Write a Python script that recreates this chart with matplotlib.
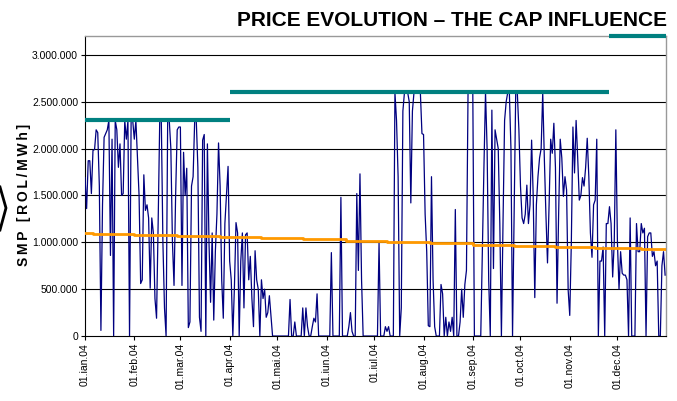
import numpy as np
import pandas as pd
import matplotlib
matplotlib.use('Agg')
import matplotlib.pyplot as plt
from matplotlib.lines import Line2D

plt.rcParams['font.family'] = ['Liberation Sans', 'DejaVu Sans']

# daily SMP values, thousands ROL/MWh, one list per month of 2004
jan = [1690, 1360, 1870, 1870, 1520, 1980, 1990, 2200, 2170, 1600, 60, 1400, 2120, 2160, 2200, 2300,
       860, 2100, 0, 2300, 2200, 1800, 2050, 1500, 1520, 2300, 2100, 2300, 0, 2300, 2300]
feb = [2100, 2300, 1900, 1500, 560, 600, 1720, 1340, 1400, 1260, 510, 1260, 1100, 400, 190, 1200,
       2300, 2300, 1000, 300, 0, 2300, 2300, 2000, 1000, 540, 1500, 2200, 2230]
mar = [2230, 540, 1960, 1500, 1790, 90, 150, 1600, 1700, 2300, 2300, 1800, 200, 50, 2090, 2150,
       0, 2050, 1000, 360, 1100, 170, 900, 1300, 2060, 1600, 600, 190, 1200, 1500, 1810]
apr = [800, 600, 0, 520, 1210, 1100, 0, 800, 1100, 300, 1080, 1100, 600, 850, 400, 100,
       910, 600, 500, 0, 600, 400, 500, 200, 250, 430, 210, 0, 0, 0]
mai = [0, 0, 0, 0, 0, 0, 0, 0, 390, 0, 0, 150, 0, 0, 0, 0,
       300, 0, 300, 100, 0, 0, 100, 190, 150, 450, 0, 0, 0, 0, 0]
iun = [0, 0, 0, 890, 0, 0, 0, 0, 0, 1480, 0, 0, 0, 0, 100, 250,
       50, 0, 0, 1520, 700, 1730, 600, 0, 0, 0, 0, 0, 0, 0]
iul = [0, 0, 0, 990, 0, 0, 0, 100, 50, 100, 0, 0, 0, 2600, 2300, 1700,
       0, 300, 2400, 2600, 2600, 2600, 2500, 1420, 2400, 2600, 2600, 2600, 2600, 2600, 2160]
aug = [2150, 1300, 900, 110, 100, 1700, 600, 100, 0, 0, 0, 550, 450, 0, 200, 0,
       150, 50, 200, 0, 1350, 0, 0, 150, 500, 200, 550, 700, 2600, 2600, 2600]
sep = [2600, 0, 0, 0, 0, 0, 900, 1800, 2600, 2000, 600, 0, 2410, 720, 2200, 2100,
       2000, 1200, 0, 1200, 2300, 2500, 2600, 2600, 2000, 0, 1300, 2600, 2600, 2200]
oct_ = [1600, 1260, 1200, 1300, 1610, 1200, 1400, 2090, 1500, 410, 1400, 1700, 1900, 2000, 2600, 1900,
        1300, 780, 1400, 2100, 1950, 2270, 1800, 350, 1300, 2100, 1900, 1490, 1700, 1560, 490]
nov = [220, 1000, 2230, 1740, 2300, 1900, 1450, 1500, 1690, 1600, 1800, 2110, 1700, 1100, 840, 1400,
       1450, 2100, 0, 800, 800, 950, 0, 1200, 1200, 1380, 1200, 630, 1000, 2200]
dec = [1000, 500, 900, 670, 650, 650, 600, 0, 1260, 0, 0, 0, 1200, 900, 900, 1200,
       1100, 1150, 0, 1060, 1100, 1100, 850, 900, 750, 800, 0, 0, 750, 900, 650]

# average price, step changes (start date, level in thousands)
avg_dates = ['2004-01-01', '2004-01-06', '2004-02-01', '2004-02-28', '2004-03-26', '2004-04-21',
             '2004-05-17', '2004-06-13', '2004-07-09', '2004-08-05', '2004-09-01', '2004-09-27',
             '2004-10-23', '2004-11-17', '2004-12-16']
avg_levels = [1100, 1087, 1076, 1066, 1057, 1046, 1030, 1016, 1002, 989, 975, 963, 952, 940, 928]

# price cap periods
cap_start = ['2004-01-01', '2004-04-01', '2004-11-26']
cap_end = ['2004-04-01', '2004-11-26', '2004-12-31 12:00']
cap_levels = [2300, 2600, 3200]

month_labels = ['01.ian.04', '01.feb.04', '01.mar.04', '01.apr.04', '01.mai.04', '01.iun.04',
                '01.iul.04', '01.aug.04', '01.sep.04', '01.oct.04', '01.nov.04', '01.dec.04']
y_ticks = [0, 500000, 1000000, 1500000, 2000000, 2500000, 3000000]
y_labels = ['0', '500.000', '1.000.000', '1.500.000', '2.000.000', '2.500.000', '3.000.000']

smp = np.array(jan + feb + mar + apr + mai + iun + iul + aug + sep + oct_ + nov + dec) * 1000
days = pd.date_range('2004-01-01', periods=len(smp), freq='D')
x_end = pd.Timestamp('2004-12-31 12:00')

fig = plt.figure(figsize=(6.77, 4.01), dpi=100)
ax = fig.add_axes([0.1256, 0.162, 0.858, 0.748])

for v in y_ticks[1:]:
    ax.axhline(v, color='black', lw=0.8, zorder=1)

ax.plot(days, smp, color='#000080', lw=0.9, zorder=3)

# average line as steps
a_x = list(pd.to_datetime(avg_dates)) + [x_end]
a_y = np.array(avg_levels + [avg_levels[-1]]) * 1000
ax.step(a_x, a_y, where='post', color='#FF9900', lw=2.0, zorder=4)

for s, e, c in zip(cap_start, cap_end, cap_levels):
    ax.plot([pd.Timestamp(s), pd.Timestamp(e)], [c * 1000, c * 1000], color='#008080',
            lw=3.0, solid_capstyle='butt', zorder=5, clip_on=False)

ax.set_ylim(0, 3200000)
ax.set_xlim(pd.Timestamp('2004-01-01'), x_end)
ax.set_yticks(y_ticks)
ax.set_yticklabels(y_labels, fontsize=7.5)
ticks = pd.date_range('2004-01-01', periods=12, freq='MS')
ax.set_xticks(ticks)
ax.set_xticklabels(month_labels, rotation=90, fontsize=7.5, ha='center', va='top')
ax.tick_params(axis='both', length=3, width=0.8, color='black', pad=2)

for side in ['top', 'right']:
    ax.spines[side].set_color('#999999')
    ax.spines[side].set_linewidth(1.0)
for side in ['left', 'bottom']:
    ax.spines[side].set_color('black')
    ax.spines[side].set_linewidth(0.8)

# y label, letters slightly spaced like the original
ylab = '\u2009'.join('SMP [ROL/MWh]')
fig.text(24 / 677, 1 - 195 / 401, ylab, fontsize=10, fontweight='bold',
         rotation=90, ha='center', va='center')
fig.text(0.985, 0.935, 'PRICE EVOLUTION \u2013 THE CAP INFLUENCE', fontsize=15,
         fontweight='bold', ha='right', va='baseline')

# chevron on left edge
fig.add_artist(Line2D([0 / 677, 6 / 677, 0 / 677], [1 - 187 / 401, 1 - 208 / 401, 1 - 230 / 401],
                      color='black', lw=2))

fig.savefig('out.png', dpi=100)
